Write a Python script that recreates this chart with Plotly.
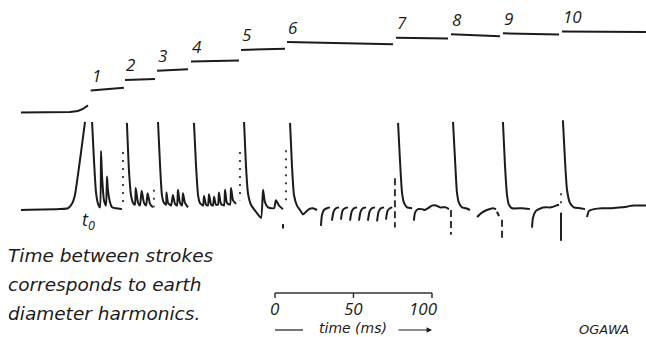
import plotly.graph_objects as go

# ---------------- data (time in ms from t0, amplitudes normalised) ----------------
# field-change trace (lower record); None separates pen strokes
wave_t = [-40.8, -15.9, -10.8, -8.3, -6.4, -4.5, -2.5, 0.0, None,
          4.5, 5.7, 7.0, 8.3, 9.6, 10.2, 10.8, 12.1, 13.4, 14.0, 14.6, 15.9, 17.2, 19.7, 23.6, None,
          26.7, 28.0, 29.3, 30.6, 31.8, 32.3, 33.8, 35.0, 36.1, 37.6, 38.9, 39.9, 41.4, 43.3, None,
          46.5, 47.8, 49.0, 50.3, 51.6, 51.9, 52.9, 54.8, 56.0, 57.3, 58.6, 59.2, 60.5, 61.8, 62.4, 63.7, 65.6, None,
          69.4, 70.7, 72.0, 73.2, 75.2, 75.8, 77.1, 78.3, 79.0, 80.3, 81.5, 82.2, 83.4, 84.7, 85.3, 86.6, 88.5,
          89.2, 90.4, 92.4, 93.0, 94.3, 96.2, None,
          101.3, 102.5, 103.8, 105.7, 108.9, 112.1, 113.4, 114.6, 116.6, 120.4, 121.6, 123.6, 126.1, None,
          130.6, 131.8, 133.1, 135.0, 136.9, 138.8, 140.8, 142.7, 145.2, 147.8, None,
          150.3, 150.9, 152.2, 154.1, 156.0, None,
          157.3, 158.3, 159.8, 161.8, None,
          163.0, 164.0, 165.5, 167.5, None,
          168.8, 169.8, 171.3, 173.3, None,
          174.5, 175.5, 177.0, 179.0, None,
          180.2, 181.2, 182.7, 184.7, None,
          186.0, 187.0, 188.5, 190.5, None,
          191.7, 192.7, 194.2, 195.7, None,
          199.4, 200.6, 201.9, 203.2, 205.1, 208.3, None,
          209.5, 210.2, 212.1, 214.6, 216.5, 218.5, 221.0, 223.6, 226.1, 229.9, 231.8, None,
          234.4, 235.7, 236.9, 238.2, 240.1, 242.7, 245.2, None,
          249.7, 252.8, 256.0, 259.9, 261.8, None,
          262.4, 263.7, None,
          266.2, 267.5, 268.8, 270.0, 272.0, 278.3, 283.4, None,
          284.7, 285.3, 287.2, 290.4, 293.6, 296.8, 300.0, 301.9, None,
          304.4, 305.7, 307.0, 308.9, 311.4, 315.3, 318.5, None,
          319.7, 321.0, 324.2, 329.3, 335.6, 342.0, 349.6, 357.3]
wave_v = [0.0, 0.01, 0.02, 0.07, 0.17, 0.40, 0.66, 1.0, None,
          1.0, 0.57, 0.20, 0.07, 0.03, 0.67, 0.40, 0.11, 0.05, 0.38, 0.23, 0.09, 0.03, 0.02, 0.01, None,
          0.99, 0.45, 0.17, 0.08, 0.06, 0.25, 0.08, 0.05, 0.22, 0.08, 0.05, 0.19, 0.07, 0.03, None,
          1.0, 0.51, 0.17, 0.08, 0.06, 0.20, 0.08, 0.05, 0.17, 0.07, 0.05, 0.23, 0.08, 0.05, 0.19, 0.08, 0.03, None,
          0.99, 0.51, 0.17, 0.08, 0.05, 0.16, 0.06, 0.05, 0.18, 0.06, 0.05, 0.15, 0.06, 0.06, 0.20, 0.07, 0.05,
          0.23, 0.08, 0.06, 0.25, 0.11, 0.07, None,
          1.0, 0.51, 0.19, 0.06, -0.02, -0.09, 0.23, 0.09, 0.03, 0.02, 0.11, 0.05, 0.01, None,
          0.99, 0.51, 0.17, 0.05, 0.0, -0.05, -0.02, 0.01, 0.02, 0.0, None,
          -0.18, -0.06, 0.0, 0.02, 0.03, None,
          -0.12, -0.02, 0.02, 0.03, None,
          -0.11, -0.01, 0.02, 0.03, None,
          -0.12, -0.02, 0.02, 0.03, None,
          -0.12, -0.02, 0.02, 0.03, None,
          -0.12, -0.02, 0.02, 0.03, None,
          -0.13, -0.02, 0.02, 0.03, None,
          -0.11, -0.01, 0.02, 0.03, None,
          0.99, 0.57, 0.20, 0.08, 0.03, 0.02, None,
          -0.12, -0.03, 0.01, 0.01, 0.0, 0.02, 0.05, 0.05, 0.03, 0.03, 0.01, None,
          1.0, 0.57, 0.20, 0.08, 0.03, 0.02, 0.0, None,
          -0.08, -0.03, 0.0, 0.02, 0.01, None,
          -0.02, -0.07, None,
          1.0, 0.51, 0.17, 0.06, 0.02, 0.02, 0.01, None,
          -0.20, -0.09, -0.01, 0.02, 0.03, 0.03, 0.05, 0.06, None,
          1.02, 0.57, 0.23, 0.08, 0.03, 0.02, 0.01, None,
          -0.08, -0.01, 0.01, 0.02, 0.02, 0.03, 0.05, 0.05]

# timing marks on the lower record
dot_mark_t = [24.2, 43.9, 98.7, 128.0, 303.2]
dot_mark_top = [0.66, 0.23, 0.66, 0.68, 0.19]
dot_mark_bot = [0.05, 0.03, 0.11, 0.06, 0.06]
dash_mark_t = [197.4, 233.1, 265.6]
dash_mark_top = [0.36, 0.0, -0.11]
dash_mark_bot = [-0.20, -0.28, -0.34]
solid_mark_t = [303.2, 126.1]
solid_mark_top = [-0.03, -0.16]
solid_mark_bot = [-0.35, -0.21]

# cumulative step record (upper trace)
pre_t = [-40.8, -9.6, -4.5, -1.3, 1.9]
pre_level = [0.0, 0.006, 0.017, 0.04, 0.08]
step_labels = ["1", "2", "3", "4", "5", "6", "7", "8", "9", "10"]
step_start_ms = [3.6, 25.5, 45.9, 67.5, 99.4, 128.7, 198.1, 233.1, 266.2, 303.8]
step_end_ms = [24.8, 44.6, 65.6, 98.1, 127.4, 196.2, 231.2, 264.3, 301.9, 357.3]
step_level_start = [0.25, 0.37, 0.475, 0.58, 0.71, 0.80, 0.85, 0.89, 0.90, 0.92]
step_level_end = [0.28, 0.38, 0.49, 0.59, 0.725, 0.775, 0.84, 0.865, 0.885, 0.915]

# time scale bar
scale_origin_ms = 121.0
scale_ticks_ms = [0, 50, 100]
scale_tick_labels = ["0", "50", "100"]
scale_level = -0.943
scale_tick_depth = 0.057

caption_lines = ["Time between strokes", "corresponds to earth", "diameter harmonics."]

INK = "#1b1b1b"
FONT = "Open Sans"
TEXT_FONT = "DejaVu Sans"

# ---------------- figure ----------------
fig = go.Figure()

# staircase
st_x, st_y = list(pre_t) + [None], list(pre_level) + [None]
for s, e, a, b in zip(step_start_ms, step_end_ms, step_level_start, step_level_end):
    st_x += [s, e, None]
    st_y += [a, b, None]
fig.add_trace(go.Scatter(x=st_x, y=st_y, yaxis="y2", mode="lines",
                         line=dict(color=INK, width=2), hoverinfo="skip"))

# lower waveform
fig.add_trace(go.Scatter(x=wave_t, y=wave_v, mode="lines",
                         line=dict(color=INK, width=2, shape="spline", smoothing=0.5),
                         connectgaps=False, hoverinfo="skip"))

def vsegs(ts, tops, bots):
    xs, ys = [], []
    for t, a, b in zip(ts, tops, bots):
        xs += [t, t, None]
        ys += [a, b, None]
    return xs, ys

x, y = vsegs(dot_mark_t, dot_mark_top, dot_mark_bot)
fig.add_trace(go.Scatter(x=x, y=y, mode="lines",
                         line=dict(color="#444", width=2, dash="2px,6px"), hoverinfo="skip"))
x, y = vsegs(dash_mark_t, dash_mark_top, dash_mark_bot)
fig.add_trace(go.Scatter(x=x, y=y, mode="lines",
                         line=dict(color="#333", width=2, dash="7px,4px"), hoverinfo="skip"))
x, y = vsegs(solid_mark_t, solid_mark_top, solid_mark_bot)
fig.add_trace(go.Scatter(x=x, y=y, mode="lines",
                         line=dict(color=INK, width=2), hoverinfo="skip"))

# scale bar
sx = [scale_origin_ms + scale_ticks_ms[0], scale_origin_ms + scale_ticks_ms[-1], None]
sy = [scale_level, scale_level, None]
for tk in scale_ticks_ms:
    sx += [scale_origin_ms + tk, scale_origin_ms + tk, None]
    sy += [scale_level, scale_level - scale_tick_depth, None]
fig.add_trace(go.Scatter(x=sx, y=sy, mode="lines",
                         line=dict(color="#333", width=1.5), hoverinfo="skip"))

ann = []
for lab, s, lv in zip(step_labels, step_start_ms, step_level_start):
    ann.append(dict(x=s, y=lv, xref="x", yref="y2", text=lab, showarrow=False,
                    xanchor="left", yanchor="middle", xshift=-1, yshift=15,
                    font=dict(family=FONT, size=17, color=INK, style="italic")))
for tk, lab in zip(scale_ticks_ms, scale_tick_labels):
    ann.append(dict(x=scale_origin_ms + tk, y=scale_level, xref="x", yref="y", text=lab,
                    showarrow=False, xanchor="center", yanchor="middle",
                    xshift=-8 if lab == "100" else 0, yshift=-16,
                    font=dict(family=FONT, size=17, color=INK, style="italic")))
ann.append(dict(x=0, y=0, xref="x", yref="y", text="t<sub>0</sub>", showarrow=False,
                xanchor="center", yanchor="middle", xshift=3, yshift=-10,
                font=dict(family=FONT, size=18, color=INK, style="italic")))
for i, line in enumerate(caption_lines):
    ann.append(dict(x=6 / 646, y=1 - (255 + 29 * i) / 337, xref="paper", yref="paper",
                    text=line, showarrow=False, xanchor="left", yanchor="middle",
                    font=dict(family=TEXT_FONT, size=18.5, color=INK, style="italic")))
ann.append(dict(x=353 / 646, y=1 - 328 / 337, xref="paper", yref="paper", text="time (ms)",
                showarrow=False, xanchor="center", yanchor="middle",
                font=dict(family=TEXT_FONT, size=14, color=INK, style="italic")))
ann.append(dict(x=603.5 / 646, y=1 - 329 / 337, xref="paper", yref="paper", text="OGAWA",
                showarrow=False, xanchor="center", yanchor="middle",
                font=dict(family=TEXT_FONT, size=13, color=INK, style="italic")))
ann.append(dict(x=432 / 646, y=1 - 330 / 337, xref="paper", yref="paper", text="",
                showarrow=True, ax=-35, ay=0, arrowhead=2, arrowsize=0.9, arrowwidth=1.2,
                arrowcolor=INK))

fig.update_layout(
    width=646, height=337,
    margin=dict(l=0, r=0, t=0, b=0),
    paper_bgcolor="white", plot_bgcolor="white",
    showlegend=False,
    xaxis=dict(range=[-54.14, 357.32], visible=False, fixedrange=True),
    yaxis=dict(range=[-1.443, 2.386], visible=False, fixedrange=True),
    yaxis2=dict(range=[-2.551, 1.278], visible=False, overlaying="y", fixedrange=True),
    annotations=ann,
    shapes=[dict(type="line", xref="paper", yref="paper",
                 x0=275 / 646, x1=303 / 646, y0=1 - 330 / 337, y1=1 - 330 / 337,
                 line=dict(color=INK, width=1.2))],
)

fig.write_html("out.html", config={"displayModeBar": False},
               post_script="document.body.style.margin='0';document.body.style.overflow='hidden';")
